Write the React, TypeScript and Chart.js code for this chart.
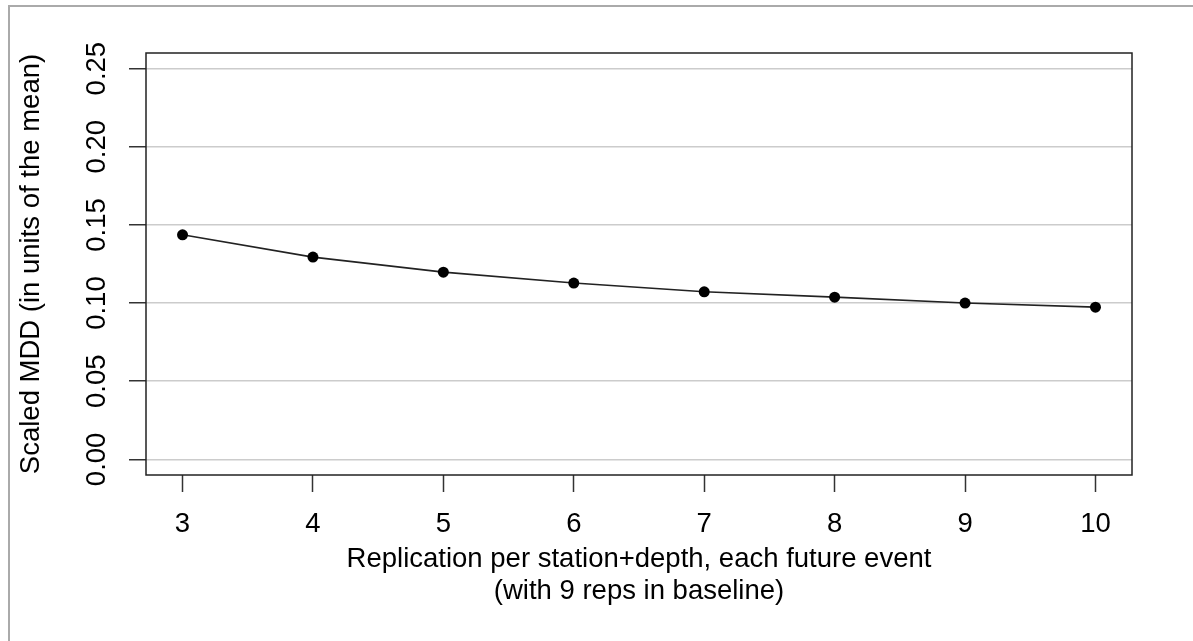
import React, { useEffect, useRef } from "react";
import { Chart, registerables } from "chart.js";

Chart.register(...registerables);

const replication = [3, 4, 5, 6, 7, 8, 9, 10];
const scaledMDD = [0.1437, 0.1294, 0.1198, 0.1128, 0.1072, 0.1038, 0.1, 0.0974];
const yTicks = [0, 0.05, 0.1, 0.15, 0.2, 0.25];
const yTickLabels = ["0.00", "0.05", "0.10", "0.15", "0.20", "0.25"];
const xTicks = [3, 4, 5, 6, 7, 8, 9, 10];
const xTitleLines = ["Replication per station+depth, each future event", "(with 9 reps in baseline)"];
const yTitle = "Scaled MDD (in units of the mean)";

const FONT = "'Liberation Sans', Arial, sans-serif";
const FS = 27.5;

const decorPlugin = {
  id: "decor",
  beforeDraw(chart: any) {
    const ctx = chart.ctx;
    ctx.save();
    ctx.fillStyle = "#ffffff";
    ctx.fillRect(0, 0, chart.width, chart.height);
    ctx.fillStyle = "#aaaaaa";
    ctx.fillRect(8, 5, chart.width - 8, 2);
    ctx.fillRect(8, 5, 2, chart.height - 5);
    ctx.restore();
  },
  afterDraw(chart: any) {
    const ctx = chart.ctx;
    const a = chart.chartArea;
    const ys = chart.scales.y;
    ctx.save();
    ctx.strokeStyle = "#222222";
    ctx.lineWidth = 1.5;
    ctx.strokeRect(a.left, a.top, a.right - a.left, a.bottom - a.top);
    ctx.fillStyle = "#000000";
    ctx.font = `${FS}px ${FONT}`;
    ctx.textAlign = "center";
    ctx.textBaseline = "middle";
    yTicks.forEach((v, i) => {
      ctx.save();
      ctx.translate(97, ys.getPixelForValue(v));
      ctx.rotate(-Math.PI / 2);
      ctx.fillText(yTickLabels[i], 0, 0);
      ctx.restore();
    });
    ctx.save();
    ctx.translate(31, (a.top + a.bottom) / 2);
    ctx.rotate(-Math.PI / 2);
    ctx.fillText(yTitle, 0, 0);
    ctx.restore();
    const cx = (a.left + a.right) / 2;
    ctx.fillText(xTitleLines[0], cx, 559);
    ctx.fillText(xTitleLines[1], cx, 591);
    ctx.restore();
  },
};

export default function App() {
  const ref = useRef<HTMLCanvasElement | null>(null);
  useEffect(() => {
    if (!ref.current) return;
    const chart = new Chart(ref.current, {
      type: "line",
      data: {
        datasets: [
          {
            data: replication.map((x, i) => ({ x, y: scaledMDD[i] })),
            borderColor: "#222222",
            borderWidth: 1.6,
            pointBackgroundColor: "#000000",
            pointBorderColor: "#000000",
            pointRadius: 5.5,
            pointBorderWidth: 0,
            tension: 0,
            fill: false,
          },
        ],
      },
      options: {
        animation: false,
        responsive: false,
        devicePixelRatio: 1,
        layout: { padding: { top: 53, right: 61, left: 0, bottom: 0 } },
        plugins: { legend: { display: false }, tooltip: { enabled: false } },
        scales: {
          x: {
            type: "linear",
            min: 2.72,
            max: 10.28,
            afterBuildTicks: (s: any) => {
              s.ticks = xTicks.map((v) => ({ value: v }));
            },
            afterFit: (s: any) => {
              s.height = 166;
            },
            border: { display: false },
            grid: {
              drawOnChartArea: false,
              drawTicks: true,
              tickLength: 17,
              tickColor: "#333333",
              tickWidth: 1.5,
            },
            ticks: {
              color: "#000000",
              font: { family: FONT, size: FS },
              padding: 16,
              maxRotation: 0,
              minRotation: 0,
              autoSkip: false,
              callback: (v: any) => String(v),
            },
          },
          y: {
            type: "linear",
            min: -0.01,
            max: 0.26,
            afterBuildTicks: (s: any) => {
              s.ticks = yTicks.map((v) => ({ value: v }));
            },
            afterFit: (s: any) => {
              s.width = 146;
            },
            border: { display: false },
            grid: {
              color: "#cccccc",
              lineWidth: 1.5,
              drawTicks: true,
              tickLength: 17,
              tickColor: "#333333",
              tickWidth: 1.5,
            },
            ticks: { display: false },
          },
        },
      },
      plugins: [decorPlugin],
    });
    return () => chart.destroy();
  }, []);
  return (
    <div style={{ position: "fixed", left: 0, top: 0, width: 1193, height: 641 }}>
      <canvas ref={ref} width={1193} height={641} style={{ display: "block" }} />
    </div>
  );
}
